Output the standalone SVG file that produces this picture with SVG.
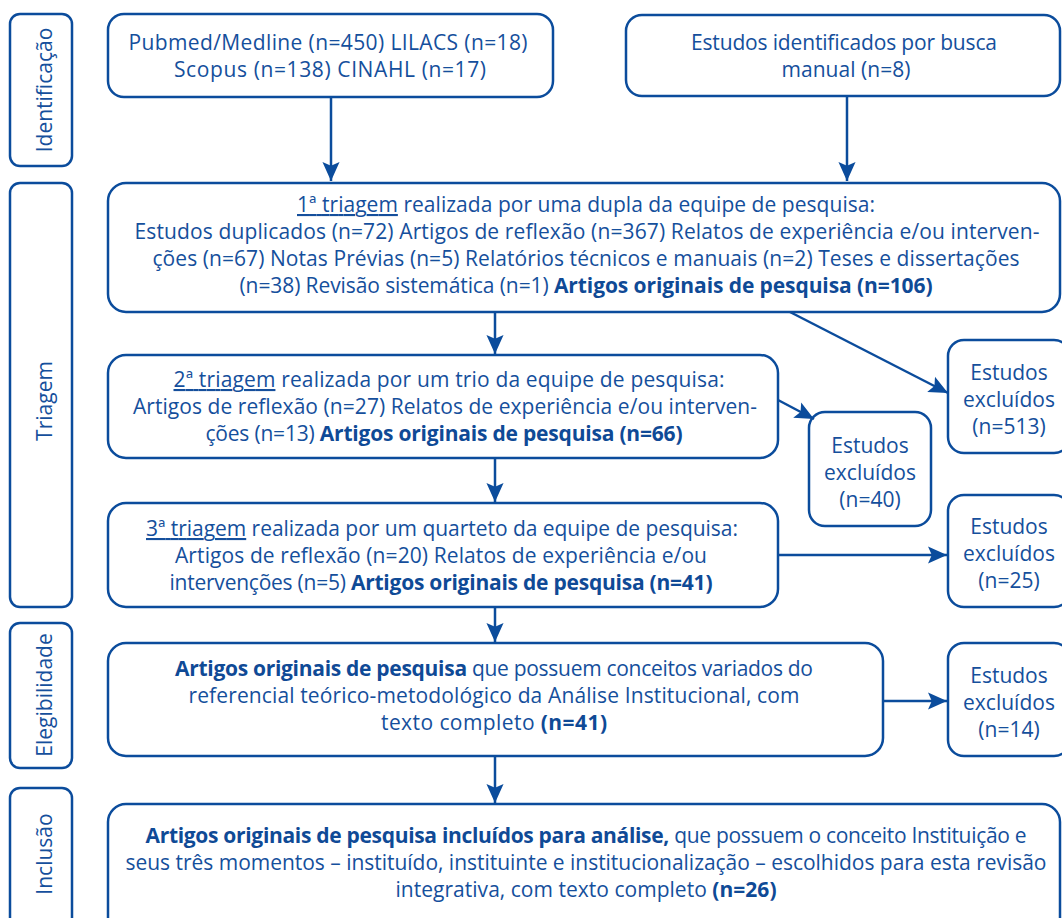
<svg xmlns="http://www.w3.org/2000/svg" width="1062" height="918" viewBox="0 0 1062 918">
<style>
.box{fill:#fff;stroke:#0b4c9c;stroke-width:2.5}
.t{font-family:"Open Sans",Lato,"Liberation Sans",sans-serif;font-size:21px;fill:#154f9c;text-anchor:middle}
.b{font-weight:bold;fill:#0f4a96}
.u{text-decoration:underline}
.c{stroke:#0b4c9c;stroke-width:2.5;fill:none;marker-end:url(#ah)}
</style>
<defs>
<marker id="ah" viewBox="0 0 20 20" refX="20" refY="10" markerWidth="19" markerHeight="19" markerUnits="userSpaceOnUse" orient="auto">
<path d="M0,1 L20,10 L0,19 L4,10 z" fill="#0b4c9c"/>
</marker>
</defs>
<g id="stage-identificacao"><rect class="box" x="10" y="14" width="62" height="152" rx="10"/><text class="t" transform="translate(52,90) rotate(-90)">Identificação</text></g>
<g id="stage-triagem"><rect class="box" x="10" y="183" width="62" height="424" rx="10"/><text class="t" transform="translate(52,401) rotate(-90)">Triagem</text></g>
<g id="stage-elegibilidade"><rect class="box" x="10" y="623" width="62" height="145" rx="10"/><text class="t" transform="translate(52,695) rotate(-90)">Elegibilidade</text></g>
<g id="stage-inclusao"><rect class="box" x="10" y="788" width="62" height="150" rx="10"/><text class="t" transform="translate(52,854) rotate(-90)">Inclusão</text></g>

<g id="n-bases"><rect class="box" x="108" y="14" width="445" height="83" rx="16"/>
<text class="t" x="328" y="50" textLength="399" lengthAdjust="spacing">Pubmed/Medline (n=450) LILACS (n=18)</text>
<text class="t" x="330" y="77" textLength="312" lengthAdjust="spacing">Scopus (n=138) CINAHL (n=17)</text></g>
<g id="n-manual"><rect class="box" x="626" y="15" width="434" height="81" rx="16"/>
<text class="t" x="844" y="50" textLength="306" lengthAdjust="spacing">Estudos identificados por busca</text>
<text class="t" x="846" y="77" textLength="129" lengthAdjust="spacing">manual (n=8)</text></g>

<g id="n-triagem1"><rect class="box" x="108" y="183" width="952" height="129" rx="18"/>
<text class="t" x="586" y="212" textLength="578" lengthAdjust="spacing"><tspan class="u">1ª triagem</tspan> realizada por uma dupla da equipe de pesquisa:</text>
<text class="t" x="587" y="239" textLength="905" lengthAdjust="spacing">Estudos duplicados (n=72) Artigos de reflexão (n=367) Relatos de experiência e/ou interven-</text>
<text class="t" x="586" y="266" textLength="867" lengthAdjust="spacing">ções (n=67) Notas Prévias (n=5) Relatórios técnicos e manuais (n=2) Teses e dissertações</text>
<text class="t" x="586" y="293" textLength="693" lengthAdjust="spacing">(n=38) Revisão sistemática (n=1) <tspan class="b">Artigos originais de pesquisa (n=106)</tspan></text></g>

<g id="n-triagem2"><rect class="box" x="108" y="355" width="670" height="103" rx="18"/>
<text class="t" x="449" y="387" textLength="551" lengthAdjust="spacing"><tspan class="u">2ª triagem</tspan> realizada por um trio da equipe de pesquisa:</text>
<text class="t" x="445" y="414" textLength="624" lengthAdjust="spacing">Artigos de reflexão (n=27) Relatos de experiência e/ou interven-</text>
<text class="t" x="444" y="441" textLength="477" lengthAdjust="spacing">ções (n=13) <tspan class="b">Artigos originais de pesquisa (n=66)</tspan></text></g>

<g id="n-triagem3"><rect class="box" x="108" y="503" width="670" height="104" rx="18"/>
<text class="t" x="442" y="536" textLength="592" lengthAdjust="spacing"><tspan class="u">3ª triagem</tspan> realizada por um quarteto da equipe de pesquisa:</text>
<text class="t" x="441" y="563" textLength="532" lengthAdjust="spacing">Artigos de reflexão (n=20) Relatos de experiência e/ou</text>
<text class="t" x="441" y="590" textLength="543" lengthAdjust="spacing">intervenções (n=5) <tspan class="b">Artigos originais de pesquisa (n=41)</tspan></text></g>

<g id="n-excl513"><rect class="box" x="948" y="340" width="122" height="113" rx="16"/>
<text class="t" x="1009" y="380">Estudos</text><text class="t" x="1009" y="407">excluídos</text><text class="t" x="1009" y="434">(n=513)</text></g>
<g id="n-excl40"><rect class="box" x="809" y="412" width="122" height="114" rx="16"/>
<text class="t" x="870" y="453">Estudos</text><text class="t" x="870" y="480">excluídos</text><text class="t" x="870" y="507">(n=40)</text></g>
<g id="n-excl25"><rect class="box" x="948" y="495" width="122" height="112" rx="16"/>
<text class="t" x="1009" y="534">Estudos</text><text class="t" x="1009" y="561">excluídos</text><text class="t" x="1009" y="588">(n=25)</text></g>

<g id="n-elegibilidade"><rect class="box" x="108" y="643" width="775" height="113" rx="18"/>
<text class="t" x="494" y="676" textLength="638" lengthAdjust="spacing"><tspan class="b">Artigos originais de pesquisa</tspan> que possuem conceitos variados do</text>
<text class="t" x="494" y="703" textLength="611" lengthAdjust="spacing">referencial teórico-metodológico da Análise Institucional, com</text>
<text class="t" x="494" y="730" textLength="226" lengthAdjust="spacing">texto completo  <tspan class="b">(n=41)</tspan></text></g>
<g id="n-excl14"><rect class="box" x="948" y="643" width="122" height="113" rx="16"/>
<text class="t" x="1009" y="683">Estudos</text><text class="t" x="1009" y="710">excluídos</text><text class="t" x="1009" y="737">(n=14)</text></g>

<g id="n-inclusao"><rect class="box" x="108" y="804" width="952" height="135" rx="18"/>
<text class="t" x="586" y="843" textLength="881" lengthAdjust="spacing"><tspan class="b">Artigos originais de pesquisa incluídos para análise,</tspan> que possuem o conceito Instituição e</text>
<text class="t" x="586" y="870" textLength="921" lengthAdjust="spacing">seus três momentos – instituído, instituinte e institucionalização – escolhidos para esta revisão</text>
<text class="t" x="586" y="897" textLength="381" lengthAdjust="spacing">integrativa, com texto completo <tspan class="b">(n=26)</tspan></text></g>

<g id="connectors">
<path class="c" d="M331,97 L331,181"/>
<path class="c" d="M847,96 L847,181"/>
<path class="c" d="M495,312 L495,354"/>
<path class="c" d="M790,312 L948,393"/>
<path class="c" d="M778,400 L814,419"/>
<path class="c" d="M495,458 L495,502"/>
<path class="c" d="M778,555 L947,555"/>
<path class="c" d="M495,607 L495,642"/>
<path class="c" d="M883,701 L947,701"/>
<path class="c" d="M495,756 L495,803"/>
</g>
</svg>
